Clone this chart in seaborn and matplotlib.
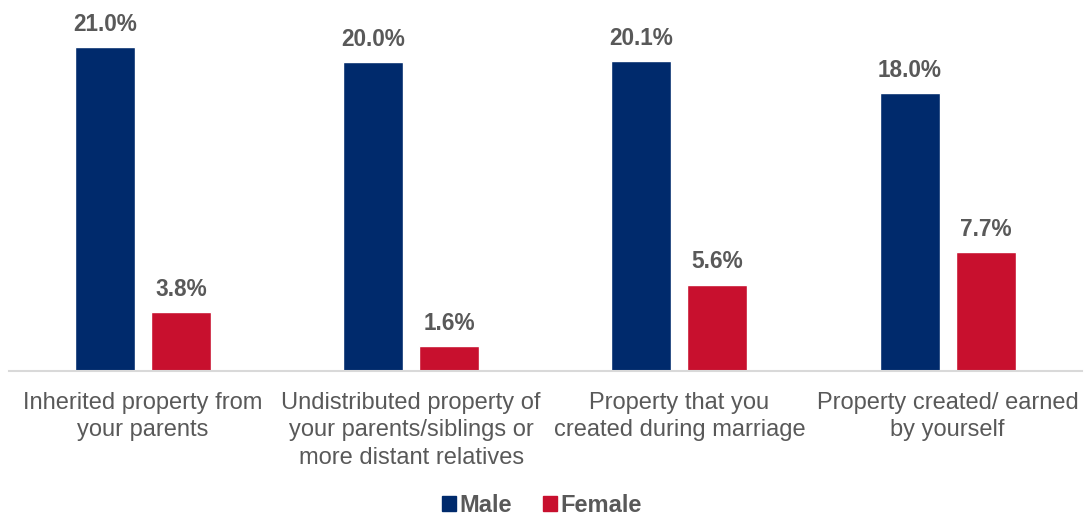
import matplotlib
matplotlib.use("Agg")
import matplotlib.pyplot as plt
import seaborn as sns
import pandas as pd

categories = [
    "Inherited property from\nyour parents",
    "Undistributed property of\nyour parents/siblings or\nmore distant relatives",
    "Property that you\ncreated during marriage",
    "Property created/ earned\nby yourself",
]
male = [21.0, 20.0, 20.1, 18.0]
female = [3.8, 1.6, 5.6, 7.7]
series = ["Male", "Female"]
colors = {"Male": "#002A6C", "Female": "#C8102E"}
text_gray = "#595959"

df = pd.DataFrame({
    "category": categories * 2,
    "value": male + female,
    "sex": ["Male"] * 4 + ["Female"] * 4,
})

sns.set_style("white")
plt.rcParams["font.family"] = ["Liberation Sans", "DejaVu Sans"]

fig = plt.figure(figsize=(10.84, 5.18), dpi=100)
ax = fig.add_axes([0.008, 0.2838, 0.99, 0.7162])

sns.barplot(data=df, x="category", y="value", hue="sex", hue_order=series,
            palette=colors, width=0.567, gap=0.21, saturation=1, ax=ax,
            legend=False)

for cont in ax.containers:
    ax.bar_label(cont, fmt="%.1f%%", padding=8, fontsize=16.3,
                 fontweight="bold", color=text_gray)

ax.set_ylim(0, 24.05)
ax.set_xlim(-0.5, 3.5)
ax.set_yticks([])
ax.set_xlabel("")
ax.set_ylabel("")
for s in ["top", "right", "left"]:
    ax.spines[s].set_visible(False)
ax.spines["bottom"].set_color("#d9d9d9")
ax.spines["bottom"].set_linewidth(1.5)
ax.tick_params(axis="x", length=0, pad=15, labelsize=17, labelcolor=text_gray)
for lbl in ax.get_xticklabels():
    lbl.set_linespacing(1.32)

handles = [plt.Rectangle((0, 0), 1, 1, color=colors[s]) for s in series]
leg = fig.legend(handles, series, loc="center", bbox_to_anchor=(0.5, 0.024),
                 ncol=2, frameon=False, handlelength=0.6, handleheight=0.6,
                 handletextpad=0.15, columnspacing=1.3, borderpad=0.2,
                 prop={"size": 17, "weight": "bold"})
for t in leg.get_texts():
    t.set_color(text_gray)

fig.savefig("out.png", dpi=100)
